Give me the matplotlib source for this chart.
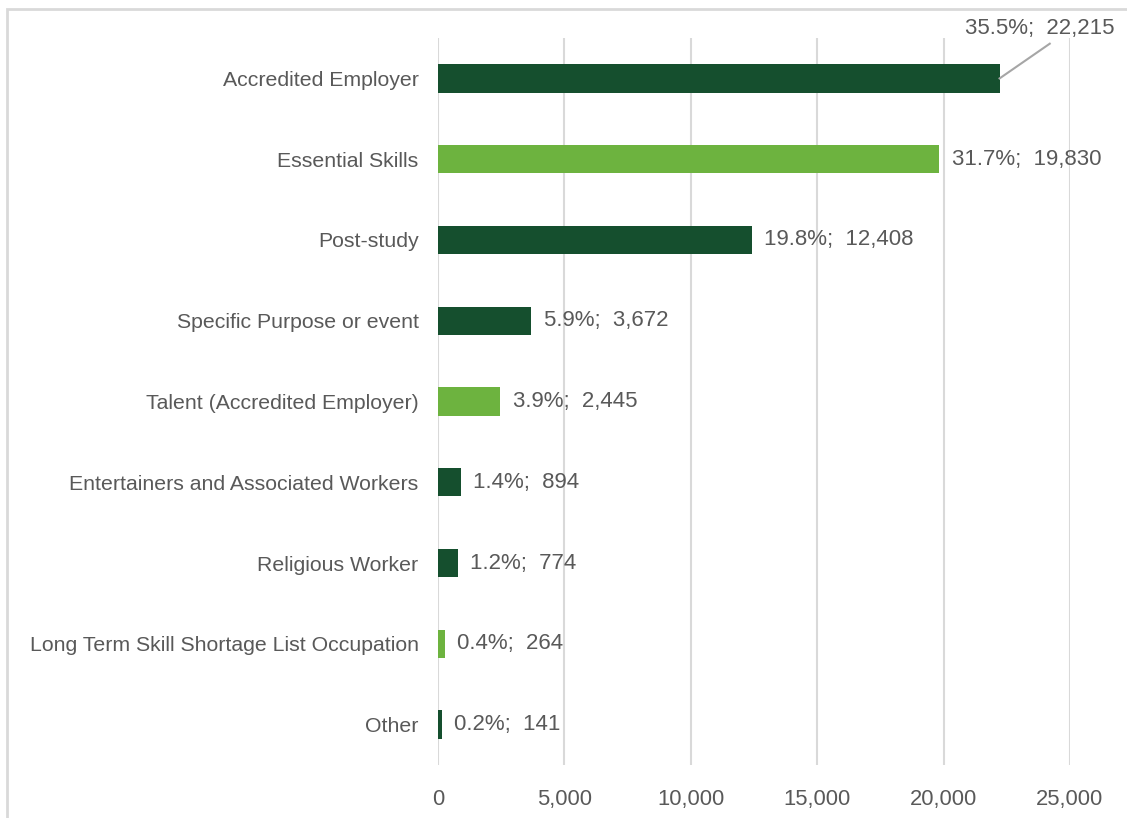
import matplotlib.pyplot as plt
from matplotlib.patches import Rectangle

# Work visa categories, counts and share of total
categories = ["Accredited Employer", "Essential Skills", "Post-study",
              "Specific Purpose or event", "Talent (Accredited Employer)",
              "Entertainers and Associated Workers", "Religious Worker",
              "Long Term Skill Shortage List Occupation", "Other"]
counts = [22215, 19830, 12408, 3672, 2445, 894, 774, 264, 141]
shares = [35.5, 31.7, 19.8, 5.9, 3.9, 1.4, 1.2, 0.4, 0.2]

dark = "#154f2e"
light = "#6db33f"
colors = [dark, light, dark, dark, light, dark, dark, light, dark]
text_col = "#595959"

plt.rcParams['font.family'] = ['Liberation Sans', 'DejaVu Sans']

fig = plt.figure(figsize=(11.27, 8.18), dpi=100)
ax = fig.add_axes([0.3887, 0.0648, 0.5607, 0.8887])

y = list(range(len(categories)))
ax.barh(y, counts, height=0.35, color=colors, zorder=3)
ax.set_ylim(len(categories) - 0.5, -0.5)
ax.set_xlim(0, 25000)
ax.set_xticks(range(0, 25001, 5000))
ax.set_xticklabels([f"{v:,}" for v in range(0, 25001, 5000)])
ax.set_yticks(y)
ax.set_yticklabels(categories)
ax.tick_params(axis='both', length=0, colors=text_col, labelsize=15.3)
ax.tick_params(axis='x', pad=17, labelsize=15.8)
ax.tick_params(axis='y', pad=14)
ax.grid(axis='x', color="#d9d9d9", linewidth=1.5, zorder=0)
for s in ax.spines.values():
    s.set_visible(False)

# value labels; the first one sits above the bar with a leader line
for i, (c, p) in enumerate(zip(counts, shares)):
    label = f"{p}%;  {c:,}"
    if i == 0:
        ax.text(26780, -0.62, label, ha='right', va='center', fontsize=16,
                color=text_col, clip_on=False)
        ax.plot([c, 24200], [i, -0.43], color="#a6a6a6", lw=1.5,
                clip_on=False, zorder=4)
    else:
        ax.text(c + 500, i, label, va='center', ha='left', fontsize=16, color=text_col)

# chart border
fig.patches.append(Rectangle((7 / 1127, -0.01), 1.1, 1 - 9 / 818 + 0.01,
                             transform=fig.transFigure, fill=False,
                             edgecolor="#d9d9d9", linewidth=2))

fig.savefig("out.png", dpi=100)
